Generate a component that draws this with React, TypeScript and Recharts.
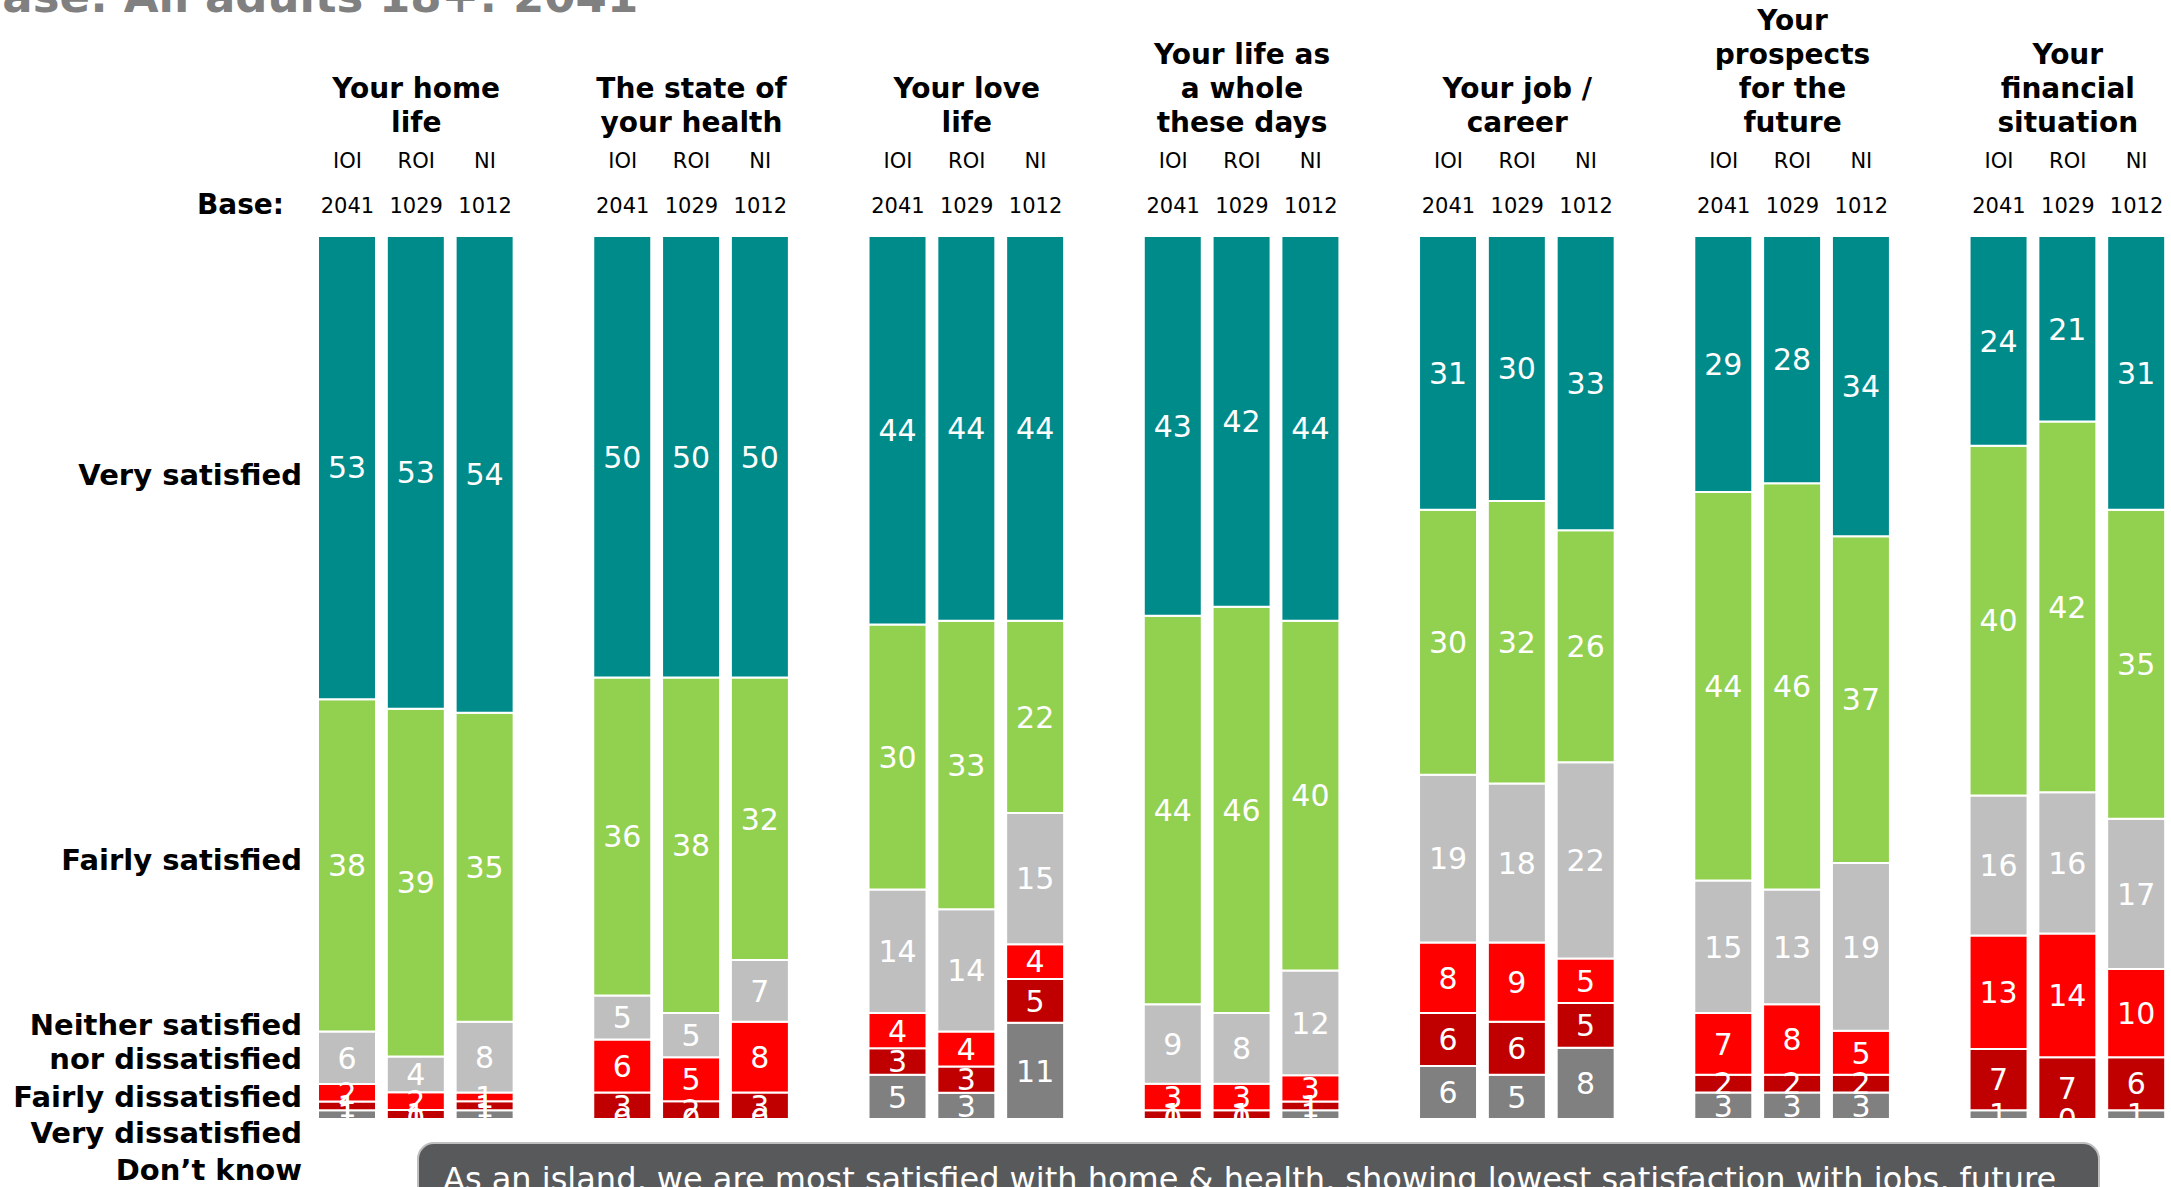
import { BarChart, Bar, XAxis, YAxis, LabelList } from 'recharts'

// group headers, one entry per topic (each line of the header)
const TITLE_LINES = [
  ['Your home', 'life'],
  ['The state of', 'your health'],
  ['Your love', 'life'],
  ['Your life as', 'a whole', 'these days'],
  ['Your job /', 'career'],
  ['Your', 'prospects', 'for the', 'future'],
  ['Your', 'financial', 'situation'],
]
const REGIONS = ['IOI', 'ROI', 'NI']
const BASES = [2041, 1029, 1012]

// values per bar: topic by topic, IOI / ROI / NI
const VERY_SATISFIED = [53, 53, 54, 50, 50, 50, 44, 44, 44, 43, 42, 44, 31, 30, 33, 29, 28, 34, 24, 21, 31]
const FAIRLY_SATISFIED = [38, 39, 35, 36, 38, 32, 30, 33, 22, 44, 46, 40, 30, 32, 26, 44, 46, 37, 40, 42, 35]
const NEITHER = [6, 4, 8, 5, 5, 7, 14, 14, 15, 9, 8, 12, 19, 18, 22, 15, 13, 19, 16, 16, 17]
const FAIRLY_DISSATISFIED = [2, 2, 1, 6, 5, 8, 4, 4, 4, 3, 3, 3, 8, 9, 5, 7, 8, 5, 13, 14, 10]
const VERY_DISSATISFIED = [1, 1, 1, 3, 2, 3, 3, 3, 5, 1, 1, 1, 6, 6, 5, 2, 2, 2, 7, 7, 6]
const DONT_KNOW = [1, 0, 1, 0, 0, 0, 5, 3, 11, 0, 0, 1, 6, 5, 8, 3, 3, 3, 1, 0, 1]

const SERIES = [
  { key: 'dk', name: 'Don\u2019t know', values: DONT_KNOW, color: '#808080' },
  { key: 'vd', name: 'Very dissatisfied', values: VERY_DISSATISFIED, color: '#C00000' },
  { key: 'fd', name: 'Fairly dissatisfied', values: FAIRLY_DISSATISFIED, color: '#FF0000' },
  { key: 'ne', name: 'Neither satisfied nor dissatisfied', values: NEITHER, color: '#BFBFBF' },
  { key: 'fs', name: 'Fairly satisfied', values: FAIRLY_SATISFIED, color: '#92D050' },
  { key: 'vs', name: 'Very satisfied', values: VERY_SATISFIED, color: '#008B8B' },
]

const FONT = 'DejaVu Sans'
const LABEL_SIZE = 30

// build the slots: 3 bars per topic, then an empty slot as a gap
const rows: any[] = []
TITLE_LINES.forEach((_, g) => {
  REGIONS.forEach((region, r) => {
    const row: any = { slot: `s${g}-${r}`, g, r, region, base: BASES[r] }
    SERIES.forEach((s) => {
      row[s.key] = s.values[g * 3 + r]
    })
    rows.push(row)
  })
  if (g < TITLE_LINES.length - 1) rows.push({ slot: `gap${g}` })
})
const rowBySlot: Record<string, any> = {}
rows.forEach((row) => (rowBySlot[row.slot] = row))

function HeaderTick(props: any) {
  const { x, payload } = props
  const row = rowBySlot[payload.value]
  if (!row || row.region == null) return <g />
  const lines = TITLE_LINES[row.g]
  return (
    <g fontFamily={FONT}>
      {row.r === 1 &&
        lines.map((line, i) => (
          <text
            key={i}
            x={x}
            y={132 - (lines.length - 1 - i) * 34}
            textAnchor="middle"
            fontSize={28}
            fontWeight="bold"
            fill="#000"
          >
            {line}
          </text>
        ))}
      <text x={x} y={168} textAnchor="middle" fontSize={21} fill="#000">
        {row.region}
      </text>
      <text x={x} y={213} textAnchor="middle" fontSize={21} fill="#000">
        {row.base}
      </text>
    </g>
  )
}

function labelText(x: number, y: number, value: any) {
  return (
    <text x={x} y={y + LABEL_SIZE * 0.36} textAnchor="middle" fontSize={LABEL_SIZE} fontFamily={FONT} fill="#fff">
      {value}
    </text>
  )
}

function SegmentLabel(props: any) {
  const { value } = props
  if (value == null || value === 0) return null
  const vb = props.viewBox || props
  return labelText(Number(vb.x) + Number(vb.width) / 2, Number(vb.y) + Number(vb.height) / 2, value)
}

// zero-height "Don't know" segments are not drawn, so their "0" sits at the foot of the bar above
function ZeroLabel(props: any) {
  const { value } = props
  if (value !== 0) return null
  const vb = props.viewBox || props
  return labelText(Number(vb.x) + Number(vb.width) / 2, Number(vb.y) + Number(vb.height), value)
}

const ROW_LABELS = [
  { text: 'Very satisfied', y: 485 },
  { text: 'Fairly satisfied', y: 870 },
  { text: 'Neither satisfied', y: 1035 },
  { text: 'nor dissatisfied', y: 1069 },
  { text: 'Fairly dissatisfied', y: 1107 },
  { text: 'Very dissatisfied', y: 1143 },
  { text: 'Don\u2019t know', y: 1180 },
]

export default function App() {
  return (
    <div style={{ position: 'absolute', left: 0, top: 0, width: 2171, height: 1187, overflow: 'hidden', background: '#fff' }}>
      <BarChart
        width={2171}
        height={1187}
        data={rows}
        stackOffset="expand"
        margin={{ top: 216, right: 0, bottom: 68, left: 313 }}
        barSize={58}
      >
        <XAxis
          dataKey="slot"
          orientation="top"
          height={20}
          interval={0}
          axisLine={false}
          tickLine={false}
          tick={<HeaderTick />}
        />
        <YAxis hide domain={[0, 1]} />
        {SERIES.map((s) => (
          <Bar
            key={s.key}
            dataKey={s.key}
            name={s.name}
            stackId="a"
            fill={s.color}
            stroke="#fff"
            strokeWidth={2}
            isAnimationActive={false}
          >
            <LabelList dataKey={s.key} content={<SegmentLabel />} />
            {s.key === 'vd' && <LabelList dataKey="dk" content={<ZeroLabel />} />}
          </Bar>
        ))}
      </BarChart>

      <svg width={2171} height={1187} style={{ position: 'absolute', left: 0, top: 0, pointerEvents: 'none' }} fontFamily={FONT}>
        <text x={-32} y={12} fontSize={45} fontWeight="bold" fill="#808080">
          Base: All adults 18+:  2041
        </text>
        <text x={284} y={214} textAnchor="end" fontSize={28} fontWeight="bold" fill="#000">
          Base:
        </text>
        {ROW_LABELS.map((l) => (
          <text key={l.text} x={302} y={l.y} textAnchor="end" fontSize={29} fontWeight="bold" fill="#000">
            {l.text}
          </text>
        ))}
        <rect x={418} y={1143} width={1681} height={120} rx={16} fill="#58595B" stroke="#BFBFBF" strokeWidth={2} />
        <text x={443} y={1190} fontSize={32} fill="#fff">
          As an island, we are most satisfied with home &amp; health, showing lowest satisfaction with jobs, future
        </text>
      </svg>
    </div>
  )
}
